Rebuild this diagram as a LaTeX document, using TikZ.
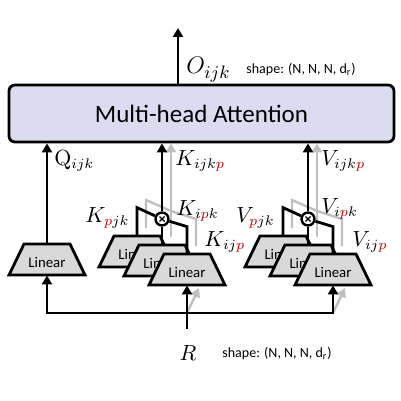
\documentclass[tikz,border=0pt]{standalone}
\usepackage[no-math]{fontspec}
\setmainfont{Carlito}
\usetikzlibrary{arrows.meta,calc}
\definecolor{attnfill}{RGB}{220,220,240}
\definecolor{linfill}{RGB}{217,217,217}
\definecolor{ghost}{RGB}{191,191,191}
\definecolor{pred}{RGB}{192,0,0}
\newcommand\rp{\textcolor{pred}{p}}
\newcommand\linearblock[3]{%
  \filldraw[trap] (#2-38,#3+15.5) -- (#2-23,#3-15.5) -- (#2+23,#3-15.5) -- (#2+38,#3+15.5) -- cycle;
  \node[linbox] (#1) at (#2,#3) {};
  \node[lintext] (#1t) at (#2,#3+3) {Linear};
}
\begin{document}
\begin{tikzpicture}[x=0.5pt,y=-0.5pt,
  conn/.style={line width=1.4pt, line join=miter},
  arr/.style={conn,-{Triangle[length=4.5pt,width=5pt]}},
  gconn/.style={line width=1.2pt, draw=ghost, line join=miter},
  garr/.style={gconn,-{Triangle[length=4.5pt,width=5pt]}},
  attn/.style={draw, line width=1.4pt, fill=attnfill, rounded corners=3pt, minimum width=192.5pt, minimum height=28.5pt, inner sep=0pt, font=\fontsize{12.5}{14}\selectfont},
  linbox/.style={minimum width=38pt, minimum height=15.5pt, inner sep=0pt},
  lintext/.style={inner sep=0pt, font=\fontsize{7.4}{8}\selectfont},
  trap/.style={draw, line width=1.4pt, fill=linfill, line join=miter},
  otimes/.style={circle, draw, line width=1.2pt, fill=white, minimum size=6.5pt, inner sep=0pt},
  lab/.style={anchor=base west, inner sep=0pt, font=\fontsize{10.5}{12}\selectfont},
  shapetxt/.style={anchor=base west, inner sep=0pt, font=\fontsize{7}{8}\selectfont}]
\useasboundingbox (0,0) rectangle (401,401);

% attention block and output
\node[attn] (mha) at (201.5,113.5) {Multi-head Attention};
\coordinate (out) at (178,28);
\draw[arr] (mha.north -| out) -- (out);
\node[lab, font=\fontsize{13}{15}\selectfont] (olab) at (186,74) {$O_{ijk}$};
\node[shapetxt] (oshape) at (246,74) {shape: (N, N, N, d\textsubscript{r})};

% reference points
\coordinate (kx0) at (162,219);
\coordinate (vx0) at (308,219);
\coordinate (kg) at (171,211);
\coordinate (vg) at (317,211);
\coordinate (j) at (187,313);
\coordinate (r) at (187,329);

% ghost (stacked) connectors, behind
\draw[gconn] (146,228) -- (146,200) -- (kg) -- (196,219) -- (196,246);
\draw[gconn] (kg) -- (171,237);
\draw[garr] (kg) -- (kg |- mha.south);
\draw[gconn] (292,228) -- (292,200) -- (vg) -- (342,219) -- (342,246);
\draw[gconn] (vg) -- (317,237);
\draw[garr] (vg) -- (vg |- mha.south);

% linear layers
\linearblock{ql}{47}{259.5}
\linearblock{kb}{137}{251.5}
\linearblock{km}{162}{260.5}
\linearblock{kf}{187}{269.5}
\linearblock{vb}{283}{251.5}
\linearblock{vm}{308}{260.5}
\linearblock{vf}{333}{269.5}

% Q branch
\draw[arr] (ql.north) -- (ql.north |- mha.south);
\node[lab] (qlab) at (54,165) {$\mathrm{Q}_{ijk}$};

% K branch
\node[otimes] (kx) at (kx0) {};
\draw[line width=0.6pt] ($(kx0)+(-2.5,-2.5)$) -- ($(kx0)+(2.5,2.5)$) ($(kx0)+(-2.5,2.5)$) -- ($(kx0)+(2.5,-2.5)$);
\draw[conn] (kb.north) -- ++(0,-28) -- (kx);
\draw[conn] (kx) -- (km.north);
\draw[conn] (kx) -- ($(kf.north)+(0,-27)$) -- (kf.north);
\draw[arr] (kx) -- (kx |- mha.south);

% V branch
\node[otimes] (vx) at (vx0) {};
\draw[line width=0.6pt] ($(vx0)+(-2.5,-2.5)$) -- ($(vx0)+(2.5,2.5)$) ($(vx0)+(-2.5,2.5)$) -- ($(vx0)+(2.5,-2.5)$);
\draw[conn] (vb.north) -- ++(0,-28) -- (vx);
\draw[conn] (vx) -- (vm.north);
\draw[conn] (vx) -- ($(vf.north)+(0,-27)$) -- (vf.north);
\draw[arr] (vx) -- (vx |- mha.south);

% labels
\node[lab] (kijkp) at (175,165) {$K_{ijk\rp}$};
\node[lab] (vijkp) at (321,165) {$V_{ijk\rp}$};
\node[lab] (kpjk) at (85,222) {$K_{\rp jk}$};
\node[lab] (kipk) at (176,215) {$K_{i\rp k}$};
\node[lab] (kijp) at (204,246) {$K_{ij\rp}$};
\node[lab] (vpjk) at (236,222) {$V_{\rp jk}$};
\node[lab] (vipk) at (321,213) {$V_{i\rp k}$};
\node[lab] (vijp) at (352,246) {$V_{ij\rp}$};

% input distribution
\draw[garr] (j) -- ++(12,-25);
\draw[garr] (vf.south |- j) -- ++(12,-25);
\draw[arr] (r) -- (kf.south);
\draw[arr] (j) -| (ql.south);
\draw[arr] (j) -| (vf.south);
\node[font=\fontsize{10.5}{12}\selectfont] (rlab) at (188,353) {$R$};
\node[shapetxt] (rshape) at (222,357) {shape: (N, N, N, d\textsubscript{r})};
\end{tikzpicture}
\end{document}
